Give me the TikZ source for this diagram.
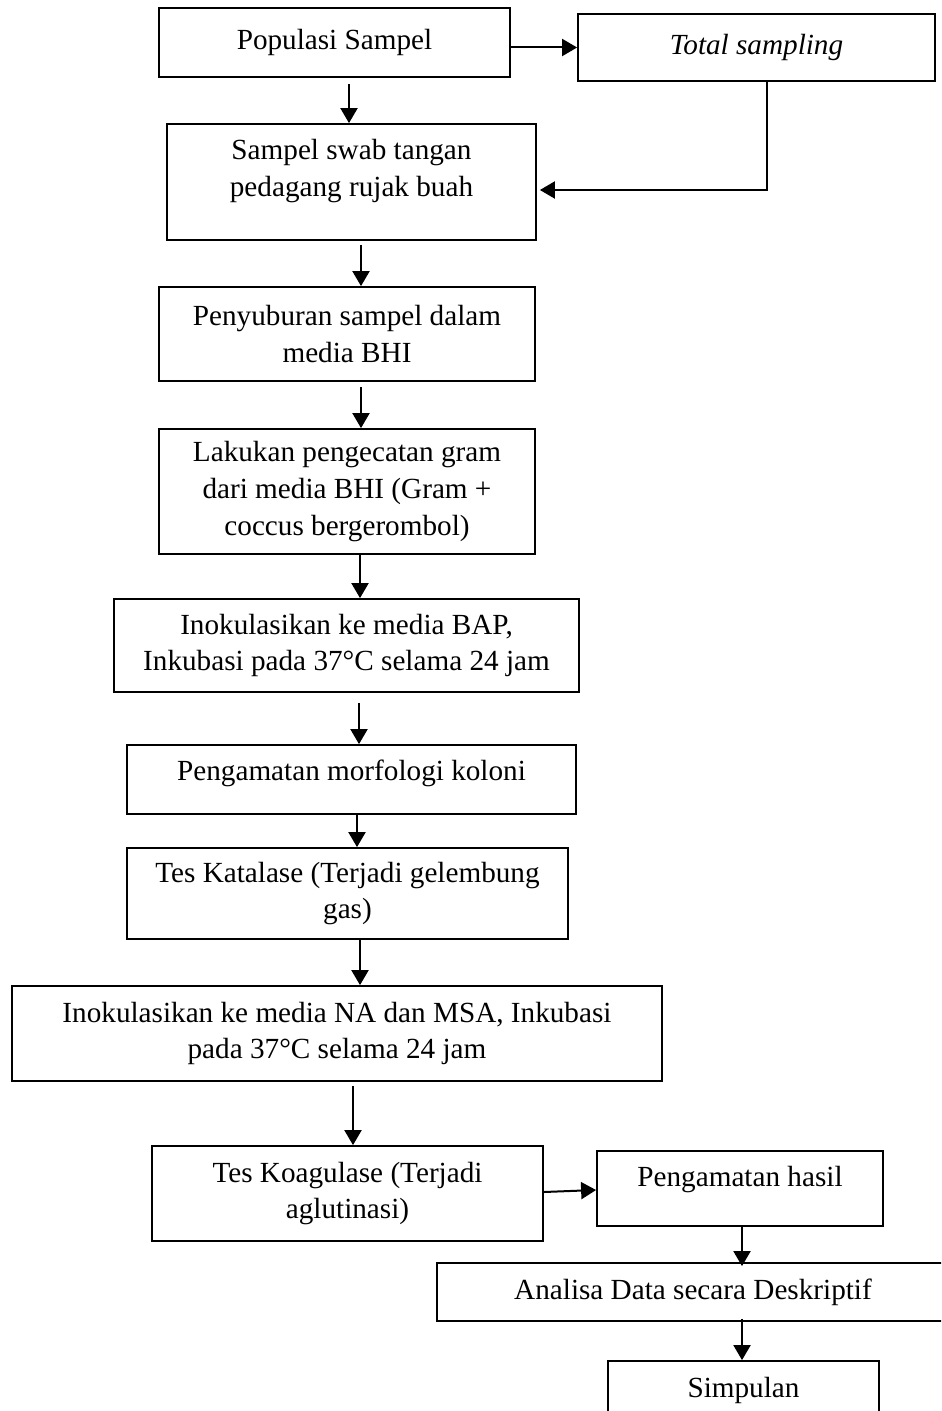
\documentclass[tikz,border=0pt]{standalone}
\usepackage{fontspec}
\setmainfont{Liberation Serif}
\usetikzlibrary{arrows.meta,calc}

\begin{document}
\begin{tikzpicture}
  [>={Triangle[length=7.5pt,width=8.5pt]},x=0.5pt,y=-0.5pt,
   box/.style={draw,line width=0.9pt,align=center,inner sep=0pt,
     font=\fontsize{14.6}{18.3}\selectfont},
   arrow/.style={->,line width=1pt}]

  \clip (0,0) rectangle (941,1411);

  % kotak-kotak alur
  \node[box,minimum width=175.5pt,minimum height=34.5pt] (populasi) at (334.5,42.5) {Populasi Sampel};
  \node[box,minimum width=178.5pt,minimum height=33.5pt] (total) at (756.5,47.5) {\textit{Total sampling}};
  \node[box,minimum width=184.5pt,minimum height=58pt] (swab) at (351.5,182) {Sampel swab tangan\\pedagang rujak buah\\[-4pt]\mbox{}};
  \node[box,minimum width=188pt,minimum height=47pt] (subur) at (347,334) {Penyuburan sampel dalam\\media BHI};
  \node[box,minimum width=188pt,minimum height=62.5pt] (gram) at (347,491.5) {Lakukan pengecatan gram\\dari media BHI (Gram +\\coccus bergerombol)};
  \node[box,minimum width=232.5pt,minimum height=46.5pt] (bap) at (346.5,645.5) {Inokulasikan ke media BAP,\\Inkubasi pada 37°C selama 24 jam};
  \node[box,minimum width=224.5pt,minimum height=34.5pt] (morfologi) at (351.5,779.5) {Pengamatan morfologi koloni\\[-8.6pt]\mbox{}};
  \node[box,minimum width=220.5pt,minimum height=45.5pt] (katalase) at (347.5,893.5) {Tes Katalase (Terjadi gelembung\\gas)};
  \node[box,minimum width=325pt,minimum height=47.5pt] (msa) at (337,1033.5) {Inokulasikan ke media NA dan MSA, Inkubasi\\pada 37°C selama 24 jam};
  \node[box,minimum width=195.5pt,minimum height=47.5pt] (koagulase) at (347.5,1193.5) {Tes Koagulase (Terjadi\\aglutinasi)};
  \node[box,minimum width=143pt,minimum height=37.5pt] (hasil) at (740,1188.5) {Pengamatan hasil\\[-6.6pt]\mbox{}};
  \node[box,minimum width=256pt,minimum height=29pt] (analisa) at (693,1292) {Analisa Data secara Deskriptif};
  \node[box,minimum width=135.5pt,minimum height=29pt] (simpulan) at (743.5,1390) {Simpulan};

  % panah
  \draw[arrow] (populasi.east |- total.west) -- (total.west);
  \draw[arrow] ($(populasi.south)+(14.5,6)$) -- ($(swab.north)+(-2.5,0)$);
  \draw[arrow] ($(total.south)+(10.5,0)$) |- ($(swab.east)+(3,8)$);
  \draw[arrow] ($(swab.south)+(9.5,4)$) -- ($(subur.north)+(14,0)$);
  \draw[arrow] ($(subur.south)+(14,5)$) -- ($(gram.north)+(14,0)$);
  \draw[arrow] ($(gram.south)+(13,0)$) -- ($(bap.north)+(13.5,0)$);
  \draw[arrow] ($(bap.south)+(12.5,10)$) -- ($(morfologi.north)+(7.5,0)$);
  \draw[arrow] ($(morfologi.south)+(5.5,0)$) -- ($(katalase.north)+(9.5,0)$);
  \draw[arrow] ($(katalase.south)+(12.5,0)$) -- ($(msa.north)+(23,0)$);
  \draw[arrow] ($(msa.south)+(16,4)$) -- ($(koagulase.north)+(5.5,0)$);
  \draw[arrow] ($(koagulase.east)+(0,-1.5)$) -- ($(hasil.west)+(0,1.5)$);
  \draw[arrow] ($(hasil.south)+(2,0)$) -- ($(analisa.north)+(49,4)$);
  \draw[arrow] ($(analisa.south)+(49,-3)$) -- ($(simpulan.north)+(-1.5,0)$);

\end{tikzpicture}
\end{document}
